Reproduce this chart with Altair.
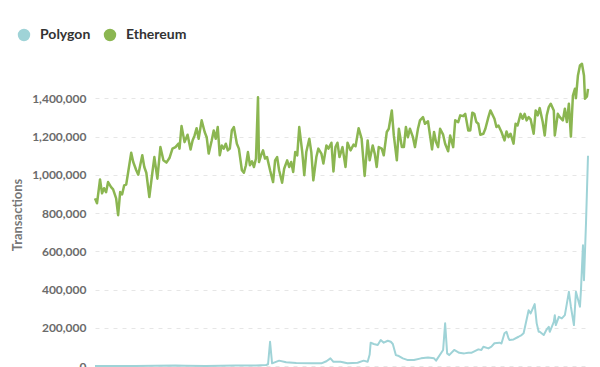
import altair as alt
import pandas as pd

series_names = ["Polygon", "Ethereum"]
series_colors = ["#9fd3d7", "#8bb651"]
start_date = "2020-01-01"

eth_day = [0, 2, 5, 7, 9, 11, 13, 16, 18, 21, 23, 25, 27, 29, 31, 33, 36, 38, 41, 43, 47, 49, 51, 54, 57, 59, 62, 65, 68, 71,
           74, 77, 80, 83, 84, 86, 89, 92, 95, 97, 99, 101, 103, 106, 109, 111, 113, 116, 118, 120, 122, 124, 126, 128, 130,
           132, 134, 136, 138, 141, 143, 146, 148, 150, 152, 154, 156, 158, 160, 162, 163, 165, 167, 169, 171, 174, 177, 179,
           181, 183, 186, 188, 191, 193, 195, 197, 199, 201, 203, 206, 208, 210, 213, 215, 217, 220, 222, 225, 227, 230, 232,
           235, 237, 239, 241, 243, 246, 249, 251, 254, 257, 259, 262, 265, 268, 271, 273, 276, 278, 280, 282, 285, 287, 290,
           292, 295, 297, 300, 302, 305, 307, 309, 311, 313, 316, 318, 321, 323, 326, 328, 331, 333, 335, 337, 339, 341, 343,
           346, 348, 351, 353, 356, 358, 361, 363, 366, 368, 371, 373, 375, 377, 379, 381, 383, 386, 388, 391, 393, 397, 399,
           401, 404, 407, 409, 411, 413, 416, 418, 420, 423, 425, 427, 429, 431, 433, 436, 438, 440, 442, 445, 447, 449, 451,
           453, 456, 457, 460, 462, 465, 467, 469, 471, 473, 475, 477, 478, 480, 482, 484, 486, 487, 489, 490]
eth_val = [877000, 851000, 976000, 903000, 930000, 909000, 962000, 936000, 924000, 877000, 789000, 910000, 898000, 945000,
           949000, 1015000, 1116000, 1067000, 1024000, 1001000, 1102000, 1041000, 1011000, 884000, 1011000, 1093000, 980000,
           1145000, 1076000, 1064000, 1088000, 1137000, 1145000, 1163000, 1137000, 1255000, 1171000, 1210000, 1133000,
           1180000, 1206000, 1244000, 1189000, 1285000, 1224000, 1197000, 1111000, 1180000, 1232000, 1189000, 1250000,
           1102000, 1154000, 1137000, 1163000, 1128000, 1137000, 1232000, 1250000, 1163000, 1137000, 1024000, 1011000,
           1050000, 1119000, 1050000, 1071000, 1041000, 1085000, 1406000, 1067000, 1102000, 1128000, 1085000, 1093000,
           1024000, 962000, 1076000, 1093000, 1024000, 959000, 1032000, 1076000, 1041000, 1067000, 1015000, 1119000,
           1102000, 1250000, 1119000, 998000, 1119000, 1189000, 1119000, 971000, 1093000, 1137000, 1111000, 1059000,
           1154000, 1137000, 1168000, 1018000, 1145000, 1168000, 1093000, 1145000, 1041000, 1168000, 1128000, 1158000,
           1150000, 1244000, 1189000, 994000, 1180000, 1076000, 1154000, 1111000, 1041000, 1145000, 1137000, 1102000,
           1224000, 1241000, 1337000, 1206000, 1076000, 1241000, 1145000, 1145000, 1250000, 1197000, 1241000, 1197000,
           1145000, 1241000, 1285000, 1302000, 1267000, 1280000, 1206000, 1133000, 1224000, 1171000, 1145000, 1241000,
           1210000, 1163000, 1123000, 1206000, 1145000, 1285000, 1276000, 1311000, 1307000, 1319000, 1232000, 1232000,
           1325000, 1319000, 1276000, 1267000, 1210000, 1215000, 1241000, 1302000, 1337000, 1293000, 1250000, 1258000,
           1224000, 1180000, 1227000, 1197000, 1215000, 1163000, 1267000, 1258000, 1319000, 1293000, 1319000, 1285000,
           1302000, 1290000, 1215000, 1337000, 1311000, 1349000, 1276000, 1206000, 1311000, 1354000, 1372000, 1337000,
           1206000, 1319000, 1302000, 1285000, 1346000, 1276000, 1372000, 1200000, 1415000, 1450000, 1401000, 1520000,
           1572000, 1581000, 1520000, 1398000, 1410000, 1450000]

poly_day = [0, 40, 80, 90, 110, 140, 160, 170, 172, 174, 176, 183, 190, 200, 215, 225, 230, 234, 237, 244, 251, 261, 267,
            271, 273, 274, 277, 281, 284, 287, 291, 294, 296, 299, 302, 306, 311, 317, 324, 331, 337, 339, 346, 348, 350,
            352, 357, 362, 367, 371, 374, 381, 384, 386, 391, 394, 397, 402, 404, 407, 409, 411, 412, 416, 421, 424, 426,
            431, 433, 437, 439, 441, 442, 446, 449, 451, 452, 456, 457, 458, 461, 464, 467, 471, 473, 476, 478, 482, 483,
            485, 486, 488, 490]
poly_val = [0, 0, 2000, 1000, 0, 2000, 3000, 5000, 9000, 127000, 14000, 28000, 20000, 16000, 15000, 14000, 25000, 40000,
            22000, 22000, 14000, 17000, 28000, 22000, 60000, 122000, 115000, 110000, 136000, 122000, 132000, 127000, 115000,
            57000, 52000, 40000, 31000, 31000, 40000, 45000, 40000, 28000, 84000, 223000, 66000, 57000, 84000, 69000, 66000,
            69000, 69000, 87000, 84000, 101000, 92000, 101000, 119000, 122000, 118000, 171000, 179000, 145000, 136000,
            139000, 153000, 162000, 171000, 292000, 275000, 324000, 223000, 179000, 179000, 162000, 192000, 205000, 179000,
            231000, 266000, 214000, 257000, 249000, 266000, 388000, 310000, 214000, 388000, 310000, 397000, 632000, 449000,
            745000, 1100000]

y_ticks = [0, 200000, 400000, 600000, 800000, 1000000, 1200000, 1400000]

base = pd.Timestamp(start_date)
rows = []
for d, v in zip(poly_day, poly_val):
    rows.append({"date": base + pd.Timedelta(days=d), "Chain": "Polygon", "Transactions": v})
for d, v in zip(eth_day, eth_val):
    rows.append({"date": base + pd.Timedelta(days=d), "Chain": "Ethereum", "Transactions": v})
df = pd.DataFrame(rows)

x_enc = alt.X("date:T", title=None, axis=None)
y_enc = alt.Y("Transactions:Q", title="Transactions",
              scale=alt.Scale(domain=[0, 1585000], nice=False, zero=True),
              axis=alt.Axis(values=y_ticks, format=",d", domain=False, ticks=False, tickSize=0,
                            labelPadding=9, labelFont="Lato", labelFontSize=12, labelFontWeight="bold",
                            labelColor="#6b6b6b", titleFont="Lato", titleFontSize=13, titleFontWeight="bold",
                            titleColor="#777777", titleX=-78, titleBaseline="middle",
                            gridColor="#e6e6e6", gridDash=[4, 5], gridWidth=1))

lines = alt.Chart(df).mark_line(strokeJoin="round").encode(
    x=x_enc,
    y=y_enc,
    color=alt.Color("Chain:N", sort=series_names,
                    scale=alt.Scale(domain=series_names, range=series_colors), legend=None),
    strokeWidth=alt.StrokeWidth("Chain:N", scale=alt.Scale(domain=series_names, range=[2, 2.5]), legend=None),
)

legend_layer = alt.Chart(df).mark_circle(opacity=0, size=1).encode(
    x=x_enc,
    y=y_enc,
    color=alt.Color("Chain:N", sort=series_names,
                    scale=alt.Scale(domain=series_names, range=series_colors),
                    legend=alt.Legend(title=None, orient="none", legendX=-78, legendY=-35,
                                      direction="horizontal", symbolType="circle", symbolSize=154,
                                      symbolStrokeWidth=0, symbolOpacity=1, labelFont="Lato", labelFontSize=14,
                                      labelFontWeight="bold", labelColor="#333333", labelOffset=9,
                                      columnPadding=12, padding=0)),
)

chart = alt.layer(legend_layer, lines).resolve_scale(color="independent").properties(
    width=493, height=303,
    padding={"left": 95, "top": 63, "right": 12, "bottom": 40},
    autosize=alt.AutoSizeParams(type="none"),
).configure_view(stroke=None)

chart.save("out.html", embed_options={"renderer": "svg", "actions": False})
